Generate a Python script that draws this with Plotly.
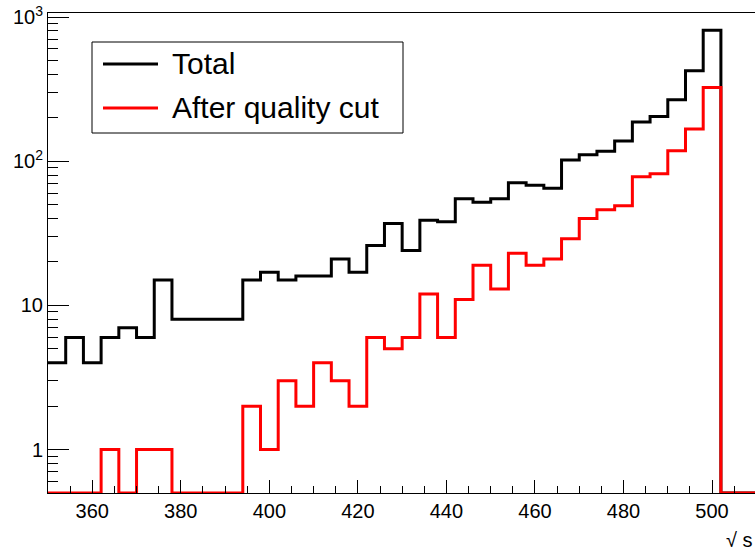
import numpy as np
import plotly.graph_objects as go

# ---- data ----
bin_low = 350
bin_width = 4
total_counts = [4, 6, 4, 6, 7, 6, 15, 8, 8, 8, 8, 15, 17, 15, 16, 16, 21, 17, 26, 37,
                24, 39, 38, 55, 52, 55, 71, 68, 65, 102, 111, 117, 138, 187, 204, 267,
                424, 810, 0, 0]
after_cut_counts = [0, 0, 0, 1, 0, 1, 1, 0, 0, 0, 0, 2, 1, 3, 2, 4, 3, 2, 6, 5,
                    6, 12, 6, 11, 19, 13, 23, 19, 21, 29, 40, 46, 49, 78, 82, 118,
                    167, 325, 0, 0]
series_names = ["Total", "After quality cut"]
series_colors = ["#000000", "#ff0000"]
x_tick_vals = [360, 380, 400, 420, 440, 460, 480, 500]
y_tick_vals = [1, 10, 100, 1000]
y_tick_text = ["1", "10", "10<sup>2</sup>", "10<sup>3</sup>"]
x_title = "√ s"

# ---- layout constants ----
W, H = 755, 549
ML, MR, MT, MB = 48, 0, 13, 56
x_min, x_max = 350, 509.7
y_min, y_max = 0.5, 1066
FONT = "Liberation Sans, Arial, Helvetica, sans-serif"

plot_w = W - ML - MR
plot_h = H - MT - MB


def px_x(px):
    return (px - ML) / plot_w


def px_y(py):
    return 1 - (py - MT) / plot_h


edges = bin_low + bin_width * np.arange(len(total_counts) + 1)


def step_y(counts):
    vals = [c if c > 0 else y_min for c in counts]
    return vals + [vals[-1]]


fig = go.Figure()
for counts, name, color in zip([total_counts, after_cut_counts], series_names, series_colors):
    fig.add_trace(go.Scatter(
        x=edges, y=step_y(counts), mode="lines", line=dict(color=color, width=3, shape="hv"),
        name=name, showlegend=False, hoverinfo="skip"))

# minor ticks on log axis
minor_y = []
for dec in [0.1, 1, 10, 100]:
    for k in range(2, 10):
        v = k * dec
        if y_min <= v <= y_max:
            minor_y.append(v)

fig.update_layout(
    width=W, height=H,
    margin=dict(l=ML, r=MR, t=MT, b=MB, pad=0),
    paper_bgcolor="white", plot_bgcolor="white",
    font=dict(family=FONT, color="black", size=20),
    xaxis=dict(range=[x_min, x_max], showline=True, linecolor="black", linewidth=1, mirror=True,
               ticks="inside", ticklen=13, tickwidth=1, tickcolor="black",
               tickmode="array", tickvals=x_tick_vals, showgrid=False, zeroline=False,
               tickfont=dict(size=20, family=FONT),
               minor=dict(ticks="inside", ticklen=7, tickcolor="black", tickwidth=1,
                          tick0=350, dtick=5, showgrid=False)),
    yaxis=dict(type="log", range=[np.log10(y_min), np.log10(y_max)], showline=True,
               linecolor="black", linewidth=1, mirror=True,
               ticks="inside", ticklen=21, tickwidth=1, tickcolor="black",
               tickmode="array", tickvals=y_tick_vals, ticktext=y_tick_text,
               showgrid=False, zeroline=False, tickfont=dict(size=20, family=FONT),
               minor=dict(ticks="inside", ticklen=10, tickcolor="black", tickwidth=1,
                          tickmode="array", tickvals=minor_y, showgrid=False)),
)

# x-axis title (ROOT style, at right end)
fig.add_annotation(text=x_title, xref="paper", yref="paper", x=px_x(724), y=px_y(540),
                   xanchor="left", yanchor="middle", showarrow=False,
                   font=dict(size=20, family=FONT, color="black"))

# legend box (ROOT TLegend style)
fig.add_shape(type="rect", xref="paper", yref="paper", x0=px_x(92), x1=px_x(403),
              y0=px_y(42), y1=px_y(133), line=dict(color="black", width=1),
              fillcolor="white", layer="above")
for i, (name, color) in enumerate(zip(series_names, series_colors)):
    yc = 64 + 44 * i
    fig.add_shape(type="line", xref="paper", yref="paper", x0=px_x(103), x1=px_x(158),
                  y0=px_y(yc), y1=px_y(yc), line=dict(color=color, width=3), layer="above")
    fig.add_annotation(text=name, xref="paper", yref="paper", x=px_x(170), y=px_y(yc),
                       xanchor="left", yanchor="middle", showarrow=False,
                       font=dict(size=30, family=FONT, color="black"))

fig.write_html("out.html", config={"displayModeBar": False},
               post_script="document.body.style.margin='0';document.body.style.padding='0';"
                           "document.body.style.overflow='hidden';")
